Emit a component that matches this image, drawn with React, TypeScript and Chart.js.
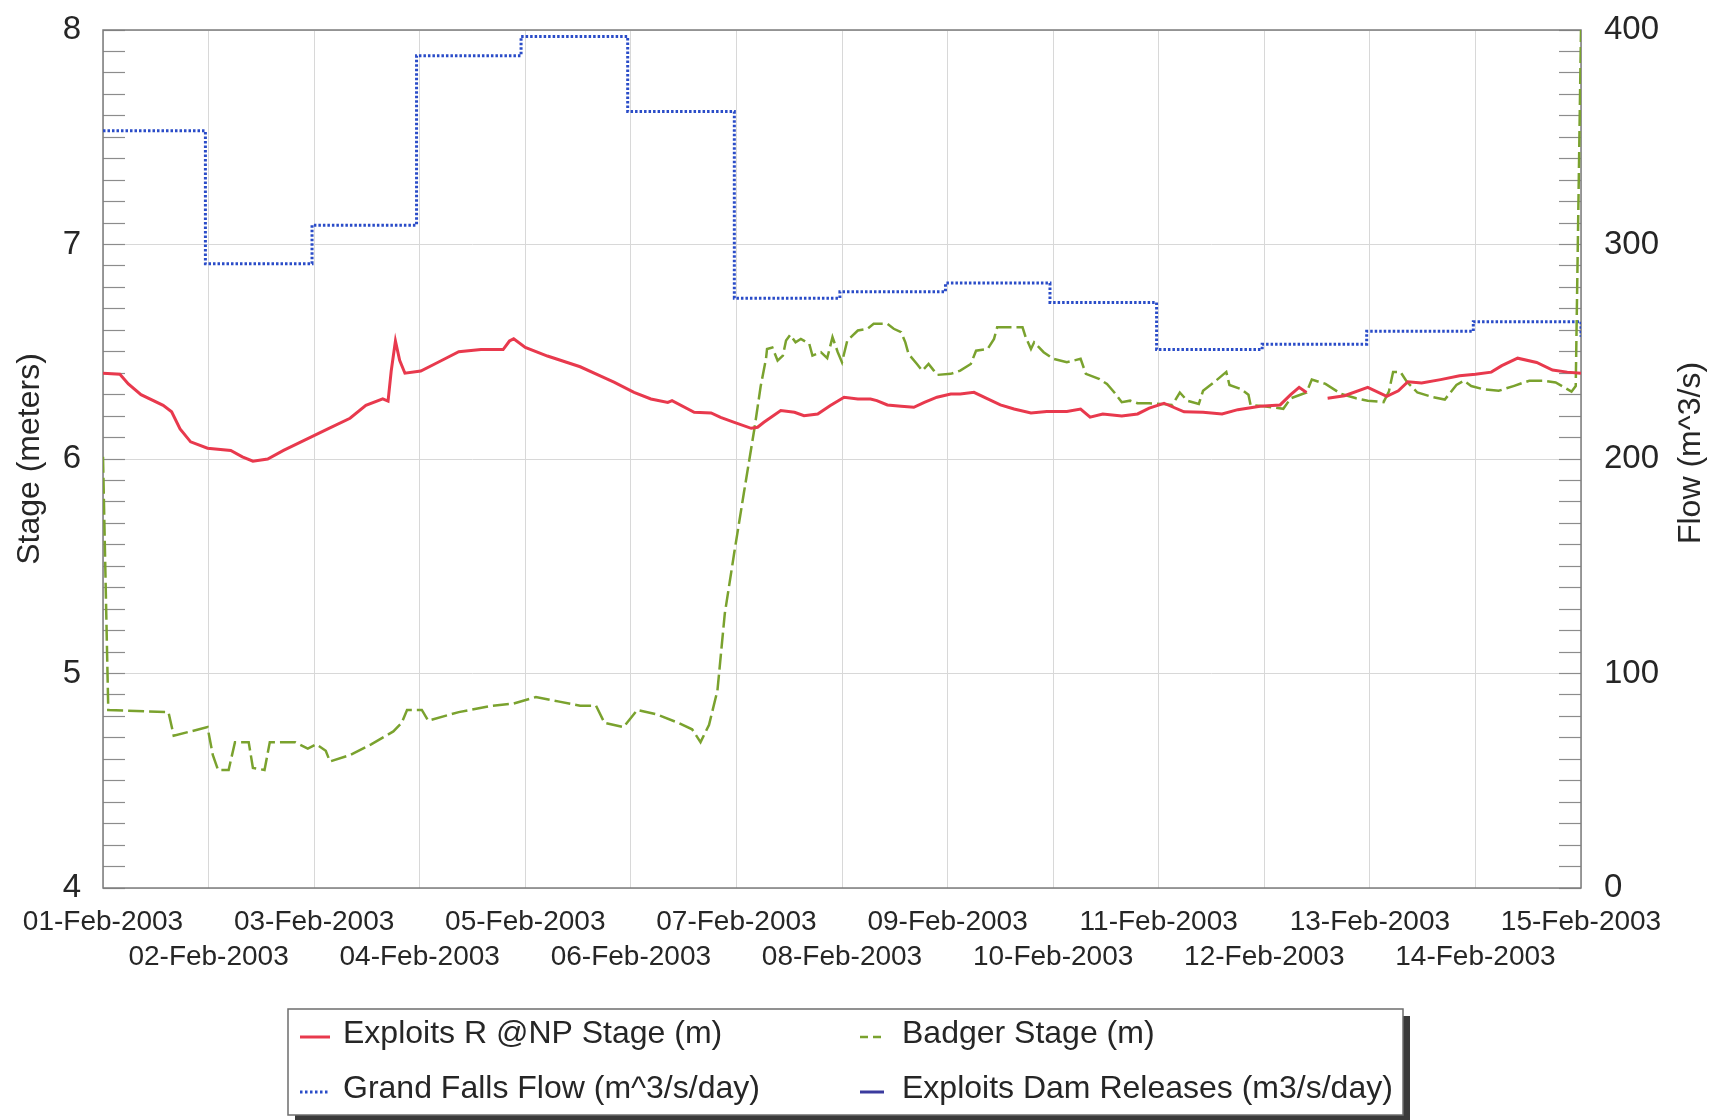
import { useEffect, useRef } from "react";
import { Chart, registerables } from "chart.js";

Chart.register(...registerables);

// ---- Tick labels / titles ----
const DATE_LABELS = [
  "01-Feb-2003", "02-Feb-2003", "03-Feb-2003", "04-Feb-2003", "05-Feb-2003",
  "06-Feb-2003", "07-Feb-2003", "08-Feb-2003", "09-Feb-2003", "10-Feb-2003",
  "11-Feb-2003", "12-Feb-2003", "13-Feb-2003", "14-Feb-2003", "15-Feb-2003",
];
const Y_TITLE = "Stage (meters)";
const Y1_TITLE = "Flow (m^3/s)";
const SERIES_NAMES = [
  "Exploits R @NP Stage (m)",
  "Badger Stage (m)",
  "Grand Falls Flow (m^3/s/day)",
  "Exploits Dam Releases (m3/s/day)",
];

// ---- Exploits R @NP Stage (m): time in days since 01-Feb-2003 ----
const EXPLOITS_DAYS = [
  0, 0.16, 0.24, 0.36, 0.57, 0.65, 0.73, 0.83, 0.99, 1.21, 1.32, 1.42, 1.56, 1.71, 1.92,
  2.13, 2.34, 2.49, 2.65, 2.7, 2.73, 2.77, 2.81, 2.86, 3.01, 3.17, 3.37, 3.58, 3.79, 3.85,
  3.89, 4.0, 4.21, 4.52, 4.72, 4.84, 5.03, 5.19, 5.35, 5.39, 5.6, 5.76, 5.85, 5.98, 6.14,
  6.2, 6.26, 6.42, 6.55, 6.64, 6.77, 6.89, 7.02, 7.15, 7.27, 7.33, 7.43, 7.56, 7.68, 7.78,
  7.9, 8.03, 8.12, 8.25, 8.38, 8.5, 8.63, 8.79, 8.94, 9.13, 9.26, 9.35, 9.47, 9.65, 9.8,
  9.91, 10.05, 10.24, 10.42, 10.6, 10.75, 10.96, 11.15, 11.25, 11.33, 11.4, 11.5, 11.6, 11.76, 11.98,
  12.16, 12.27, 12.36, 12.49, 12.67, 12.85, 13.0, 13.15, 13.25, 13.4, 13.58, 13.73, 13.87, 14.0,
];
const EXPLOITS_STAGE = [
  6.4, 6.395, 6.35, 6.3, 6.25, 6.22, 6.14, 6.08, 6.05, 6.04, 6.01, 5.99, 6.0, 6.04, 6.09,
  6.14, 6.19, 6.25, 6.28, 6.27, 6.41, 6.55, 6.46, 6.4, 6.41, 6.45, 6.5, 6.51, 6.51, 6.55,
  6.56, 6.52, 6.48, 6.43, 6.385, 6.358, 6.311, 6.28, 6.264, 6.272, 6.218, 6.215, 6.194, 6.171, 6.143,
  6.148, 6.171, 6.226, 6.218, 6.202, 6.21, 6.249, 6.288, 6.28, 6.28, 6.272, 6.252, 6.246, 6.241, 6.264,
  6.288, 6.303, 6.303, 6.311, 6.28, 6.252, 6.233, 6.215, 6.221, 6.221, 6.233, 6.195, 6.21, 6.2, 6.21,
  6.237, 6.26, 6.22, 6.218, 6.21, 6.23, 6.246, 6.252, 6.3, 6.334, 6.31, null, 6.283, 6.295, 6.334,
  6.292, 6.318, 6.36, 6.354, 6.37, 6.388, 6.395, 6.405, 6.435, 6.47, 6.45, 6.415, 6.405, 6.4,
];

// ---- Badger Stage (m) ----
const BADGER_DAYS = [
  0, 0.03, 0.05, 0.62, 0.67, 0.83, 0.99, 1.04, 1.09, 1.19, 1.25, 1.38, 1.42, 1.53, 1.58,
  1.82, 1.94, 2.02, 2.11, 2.15, 2.34, 2.54, 2.75, 2.83, 2.88, 3.02, 3.08, 3.37, 3.69, 3.89,
  4.1, 4.31, 4.52, 4.67, 4.75, 4.93, 5.06, 5.24, 5.45, 5.58, 5.66, 5.74, 5.82, 5.89, 5.98,
  6.07, 6.17, 6.23, 6.28, 6.29, 6.34, 6.39, 6.44, 6.47, 6.51, 6.56, 6.61, 6.69, 6.72, 6.8,
  6.86, 6.91, 6.96, 7.0, 7.05, 7.15, 7.24, 7.3, 7.43, 7.49, 7.56, 7.6, 7.63, 7.71, 7.76,
  7.82, 7.87, 7.9, 8.03, 8.12, 8.22, 8.27, 8.38, 8.44, 8.47, 8.71, 8.74, 8.79, 8.82, 8.91,
  9.0, 9.13, 9.26, 9.31, 9.44, 9.51, 9.58, 9.65, 9.73, 9.8, 9.91, 10.02, 10.13, 10.2, 10.27,
  10.38, 10.42, 10.53, 10.64, 10.67, 10.78, 10.85, 10.87, 11.0, 11.18, 11.25, 11.4, 11.45, 11.58, 11.73,
  11.87, 11.98, 12.13, 12.18, 12.22, 12.29, 12.35, 12.45, 12.6, 12.71, 12.82, 12.89, 12.96, 13.07, 13.22,
  13.36, 13.51, 13.65, 13.76, 13.91, 13.95, 14.0,
];
const BADGER_STAGE = [
  6.01, 5.3, 4.83, 4.82, 4.71, 4.73, 4.75, 4.62, 4.55, 4.55, 4.68, 4.68, 4.56, 4.55, 4.68,
  4.68, 4.65, 4.67, 4.64, 4.59, 4.62, 4.67, 4.73, 4.77, 4.83, 4.83, 4.78, 4.82, 4.85, 4.86,
  4.89, 4.87, 4.85, 4.85, 4.77, 4.75, 4.83, 4.81, 4.77, 4.74, 4.68, 4.76, 4.92, 5.28, 5.565,
  5.84, 6.14, 6.34, 6.467, 6.513, 6.52, 6.459, 6.482, 6.552, 6.579, 6.544, 6.56, 6.537, 6.482, 6.498,
  6.47, 6.568, 6.498, 6.451, 6.552, 6.599, 6.607, 6.63, 6.63, 6.607, 6.591, 6.544, 6.49, 6.443, 6.412,
  6.443, 6.412, 6.392, 6.397, 6.412, 6.443, 6.505, 6.513, 6.56, 6.614, 6.614, 6.568, 6.513, 6.544, 6.498,
  6.467, 6.451, 6.467, 6.397, 6.372, 6.35, 6.31, 6.265, 6.272, 6.26, 6.26, 6.257, 6.252, 6.31, 6.272,
  6.257, 6.318, 6.36, 6.406, 6.345, 6.326, 6.3, 6.252, 6.246, 6.234, 6.283, 6.31, 6.37, 6.35, 6.303,
  6.283, 6.272, 6.265, 6.314, 6.406, 6.406, 6.36, 6.31, 6.288, 6.277, 6.345, 6.365, 6.34, 6.326, 6.318,
  6.34, 6.365, 6.365, 6.357, 6.314, 6.34, 8.0,
];

// ---- Grand Falls Flow (m^3/s/day): value holds from each change time to the next ----
const FLOW_DAYS = [0, 0.97, 1.98, 2.97, 3.96, 4.97, 5.98, 6.98, 7.98, 8.97, 9.98, 10.98, 11.97, 12.98, 14.0];
const FLOW_VALUES = [353, 291, 309, 388, 397, 362, 275, 278, 282, 273, 251, 253.5, 259.5, 264, 257];

// ---- Exploits Dam Releases (m3/s/day): no values visible in the chart ----
const DAM_DAYS: number[] = [];
const DAM_VALUES: number[] = [];

const FONT = "'Liberation Sans', Arial, Helvetica, sans-serif";
const TEXT = "#262626";

const toPoints = (xs: number[], ys: (number | null)[]) => xs.map((x, i) => ({ x, y: ys[i] }));
const isWhole = (v: number) => Math.abs(v - Math.round(v)) < 1e-6;

const framePlugin = {
  id: "frame",
  beforeDatasetsDraw(chart: any) {
    const { ctx, chartArea: a } = chart;
    ctx.save();
    ctx.strokeStyle = "#7c7c7c";
    ctx.lineWidth = 1.5;
    ctx.strokeRect(a.left, a.top, a.right - a.left, a.bottom - a.top);
    ctx.restore();
  },
};

const extrasPlugin = {
  id: "extras",
  afterDraw(chart: any) {
    const { ctx } = chart;
    ctx.save();
    // right axis title, reading bottom-to-top
    ctx.translate(1691, 453);
    ctx.rotate(-Math.PI / 2);
    ctx.font = `32px ${FONT}`;
    ctx.fillStyle = TEXT;
    ctx.textAlign = "center";
    ctx.textBaseline = "middle";
    ctx.fillText(Y1_TITLE, 0, 0);
    ctx.restore();

    // legend box
    const bx = 288, by = 1009, bw = 1115, bh = 106;
    ctx.save();
    ctx.fillStyle = "#3a3a3a";
    ctx.fillRect(bx + 7, by + 7, bw, bh);
    ctx.fillStyle = "#ffffff";
    ctx.fillRect(bx, by, bw, bh);
    ctx.strokeStyle = "#6e6e6e";
    ctx.lineWidth = 1.5;
    ctx.strokeRect(bx, by, bw, bh);

    const cols = [{ sx: 300, sw: 30, tx: 343 }, { sx: 860, sw: 24, tx: 902 }];
    const rows = [1034, 1089];
    chart.data.datasets.forEach((ds: any, i: number) => {
      const c = cols[i % 2];
      const y = rows[Math.floor(i / 2)];
      ctx.save();
      ctx.strokeStyle = ds.borderColor;
      ctx.lineWidth = ds.borderWidth;
      ctx.setLineDash(ds.legendDash || []);
      ctx.beginPath();
      ctx.moveTo(c.sx, y + 3);
      ctx.lineTo(c.sx + c.sw, y + 3);
      ctx.stroke();
      ctx.restore();
      ctx.font = `32px ${FONT}`;
      ctx.fillStyle = TEXT;
      ctx.textAlign = "left";
      ctx.textBaseline = "middle";
      ctx.fillText(ds.label, c.tx, y);
    });
    ctx.restore();
  },
};

export default function App() {
  const ref = useRef<HTMLCanvasElement | null>(null);

  useEffect(() => {
    if (!ref.current) return;
    Chart.defaults.font.family = FONT;
    const chart = new Chart(ref.current, {
      type: "line",
      data: {
        datasets: [
          {
            label: SERIES_NAMES[0],
            data: toPoints(EXPLOITS_DAYS, EXPLOITS_STAGE),
            borderColor: "#e8394d",
            borderWidth: 3,
            pointRadius: 0,
            yAxisID: "y",
            legendDash: [],
          } as any,
          {
            label: SERIES_NAMES[1],
            data: toPoints(BADGER_DAYS, BADGER_STAGE),
            borderColor: "#7aa22e",
            borderWidth: 2.5,
            borderDash: [16, 5],
            pointRadius: 0,
            yAxisID: "y",
            legendDash: [8, 5],
          } as any,
          {
            label: SERIES_NAMES[2],
            data: toPoints(FLOW_DAYS, FLOW_VALUES),
            borderColor: "#2a4cc8",
            borderWidth: 3,
            borderDash: [2.5, 2],
            stepped: "before",
            pointRadius: 0,
            yAxisID: "y1",
            legendDash: [2.5, 2.5],
          } as any,
          {
            label: SERIES_NAMES[3],
            data: toPoints(DAM_DAYS, DAM_VALUES),
            borderColor: "#3b3b9e",
            borderWidth: 3,
            pointRadius: 0,
            yAxisID: "y1",
            legendDash: [],
          } as any,
        ],
      },
      options: {
        animation: false,
        responsive: false,
        layout: { padding: { top: 30, left: 0, right: 0, bottom: 0 } },
        plugins: { legend: { display: false }, tooltip: { enabled: false } },
        scales: {
          x: {
            type: "linear",
            min: 0,
            max: 14,
            afterFit: (s: any) => { s.height = 232; s.paddingLeft = 60; s.paddingRight = 60; },
            grid: { color: "#d8d8d8", lineWidth: 1, drawTicks: false },
            border: { display: false },
            ticks: {
              stepSize: 1,
              autoSkip: false,
              maxRotation: 0,
              minRotation: 0,
              padding: 17,
              color: TEXT,
              font: { size: 28, lineHeight: 1.25 },
              callback: (v: any) => {
                const i = Math.round(Number(v));
                const t = DATE_LABELS[i] ?? "";
                return i % 2 === 0 ? t : ["", t];
              },
            },
          },
          y: {
            type: "linear",
            position: "left",
            min: 4,
            max: 8,
            afterFit: (s: any) => { s.width = 103; s.paddingTop = 10; s.paddingBottom = 10; },
            border: { display: false },
            grid: {
              color: (c: any) => (isWhole(c.tick.value) ? "#d8d8d8" : "rgba(0,0,0,0)"),
              tickColor: "#8c8c8c",
              tickLength: -22,
              tickWidth: 1.2,
              drawTicks: true,
            },
            ticks: {
              stepSize: 0.1,
              autoSkip: false,
              padding: 44,
              color: TEXT,
              font: { size: 33 },
              callback: (v: any) => (isWhole(Number(v)) ? String(Math.round(Number(v))) : ""),
            },
            title: {
              display: true,
              text: Y_TITLE,
              color: TEXT,
              font: { size: 32 },
              padding: { top: 11, bottom: 0 },
            },
          },
          y1: {
            type: "linear",
            position: "right",
            min: 0,
            max: 400,
            afterFit: (s: any) => { s.width = 137; s.paddingTop = 10; s.paddingBottom = 10; },
            border: { display: false },
            grid: {
              drawOnChartArea: false,
              tickColor: "#8c8c8c",
              tickLength: -22,
              tickWidth: 1.2,
              drawTicks: true,
            },
            ticks: {
              stepSize: 10,
              autoSkip: false,
              padding: 45,
              color: TEXT,
              font: { size: 33 },
              callback: (v: any) => (Math.round(Number(v)) % 100 === 0 ? String(Math.round(Number(v))) : ""),
            },
          },
        },
      } as any,
      plugins: [framePlugin, extrasPlugin],
    });
    return () => chart.destroy();
  }, []);

  return (
    <div style={{ position: "absolute", left: 0, top: 0, width: 1718, height: 1120, background: "#fff" }}>
      <canvas ref={ref} width={1718} height={1120} style={{ display: "block", width: 1718, height: 1120 }} />
    </div>
  );
}
